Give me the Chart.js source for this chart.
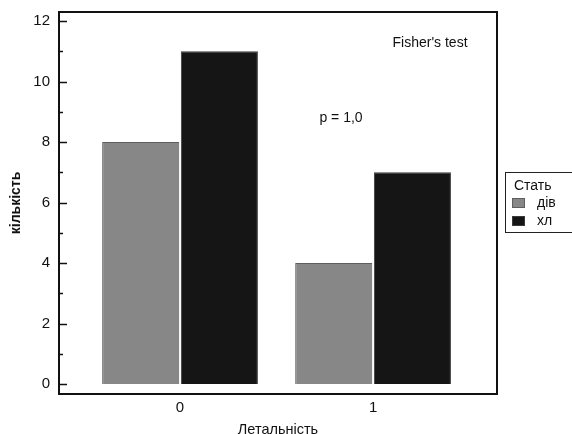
<!DOCTYPE html>
<html>
<head>
<meta charset="utf-8">
<script src="https://cdn.jsdelivr.net/npm/chart.js@4.4.0/dist/chart.umd.min.js"></script>
<style>
  html, body { margin: 0; padding: 0; background: #fff; }
  #wrap { width: 572px; height: 434px; }
</style>
</head>
<body>
<div id="wrap"><canvas id="myChart"></canvas></div>
<script>
var categories = [0, 1];
var divValues = [8, 4];
var khlValues = [11, 7];
var seriesNames = ['дів', 'хл'];
var yTicks = [0, 2, 4, 6, 8, 10, 12];
var yMinorTicks = [1, 3, 5, 7, 9, 11];
var notes = [
    {text: "Fisher's test", x: 1.295, y: 11.27},
    {text: 'p = 1,0', x: 0.834, y: 8.79}
];

var FONT = '"Liberation Sans", Arial, sans-serif';

function points(values) {
    return categories.map(function (c, i) {
        return {x: c, y: values[i]};
    });
}

// frame, inward ticks, notes and legend box
var extras = {
    id: 'extras',
    afterDraw: function (chart) {
        var c = chart.ctx, a = chart.chartArea, ys = chart.scales.y, xs = chart.scales.x;
        c.save();
        c.strokeStyle = '#111';
        c.lineWidth = 2;
        c.strokeRect(a.left, a.top, a.right - a.left, a.bottom - a.top);
        c.lineWidth = 1.5;
        yTicks.forEach(function (v) {
            var p = Math.round(ys.getPixelForValue(v)) + 0.5;
            c.beginPath(); c.moveTo(a.left, p); c.lineTo(a.left + 8, p); c.stroke();
        });
        yMinorTicks.forEach(function (v) {
            var p = Math.round(ys.getPixelForValue(v)) + 0.5;
            c.beginPath(); c.moveTo(a.left, p); c.lineTo(a.left + 4, p); c.stroke();
        });
        c.fillStyle = '#111';
        c.font = '14px ' + FONT;
        c.textAlign = 'center';
        c.textBaseline = 'middle';
        notes.forEach(function (n) {
            c.fillText(n.text, xs.getPixelForValue(n.x), ys.getPixelForValue(n.y));
        });
        // legend
        var lx = a.right + 8, ly = 172;
        c.lineWidth = 1;
        c.strokeStyle = '#222';
        c.strokeRect(lx + 0.5, ly + 0.5, 80, 60);
        c.textAlign = 'left';
        c.fillText('Стать', lx + 9, ly + 14);
        chart.data.datasets.forEach(function (ds, i) {
            var yy = ly + 31 + i * 18;
            c.fillStyle = ds.backgroundColor;
            c.fillRect(lx + 7, yy - 5, 13, 10);
            c.strokeStyle = ds.borderColor;
            c.strokeRect(lx + 7.5, yy - 4.5, 12, 9);
            c.fillStyle = '#111';
            c.fillText(ds.label, lx + 32, yy);
        });
        c.restore();
    }
};

var ctx = document.getElementById('myChart').getContext('2d');
var myChart = new Chart(ctx, {
    type: 'bar',
    data: {
        datasets: [{
            label: seriesNames[0],
            data: points(divValues),
            backgroundColor: '#878787',
            borderColor: '#5e5e5e',
            borderWidth: 1
        }, {
            label: seriesNames[1],
            data: points(khlValues),
            backgroundColor: '#151515',
            borderColor: '#3a3a3a',
            borderWidth: 1
        }]
    },
    options: {
        responsive: true,
        maintainAspectRatio: false,
        animation: false,
        categoryPercentage: 0.815,
        barPercentage: 0.98,
        layout: {padding: {left: 0, right: 75, top: 12, bottom: 0}},
        plugins: {legend: {display: false}, tooltip: {enabled: false}},
        scales: {
            x: {
                type: 'linear',
                offset: false,
                min: -0.627,
                max: 1.642,
                afterBuildTicks: function (s) {
                    s.ticks = categories.map(function (v) { return {value: v}; });
                },
                afterFit: function (s) {
                    s.height = 40;
                    s.paddingLeft = 0; s.paddingRight = 0;
                },
                grid: {display: false, drawTicks: false},
                border: {display: false},
                ticks: {color: '#111', font: {family: FONT, size: 15}, padding: 5},
                title: {display: true, text: 'Летальність', color: '#111', font: {family: FONT, size: 14.5}, padding: {top: 0, bottom: -5}}
            },
            y: {
                min: -0.33,
                max: 12.3,
                afterBuildTicks: function (s) {
                    s.ticks = yTicks.map(function (v) { return {value: v}; });
                },
                afterFit: function (s) {
                    s.width = 59;
                    s.paddingTop = 0; s.paddingBottom = 0;
                },
                grid: {display: false, drawTicks: false},
                border: {display: false},
                ticks: {color: '#111', font: {family: FONT, size: 15}, padding: 9},
                title: {display: true, text: 'кількість', color: '#111', font: {family: FONT, size: 14, weight: 'bold'}, padding: {top: 8, bottom: 0}}
            }
        }
    },
    plugins: [extras]
});
</script>
</body>
</html>
